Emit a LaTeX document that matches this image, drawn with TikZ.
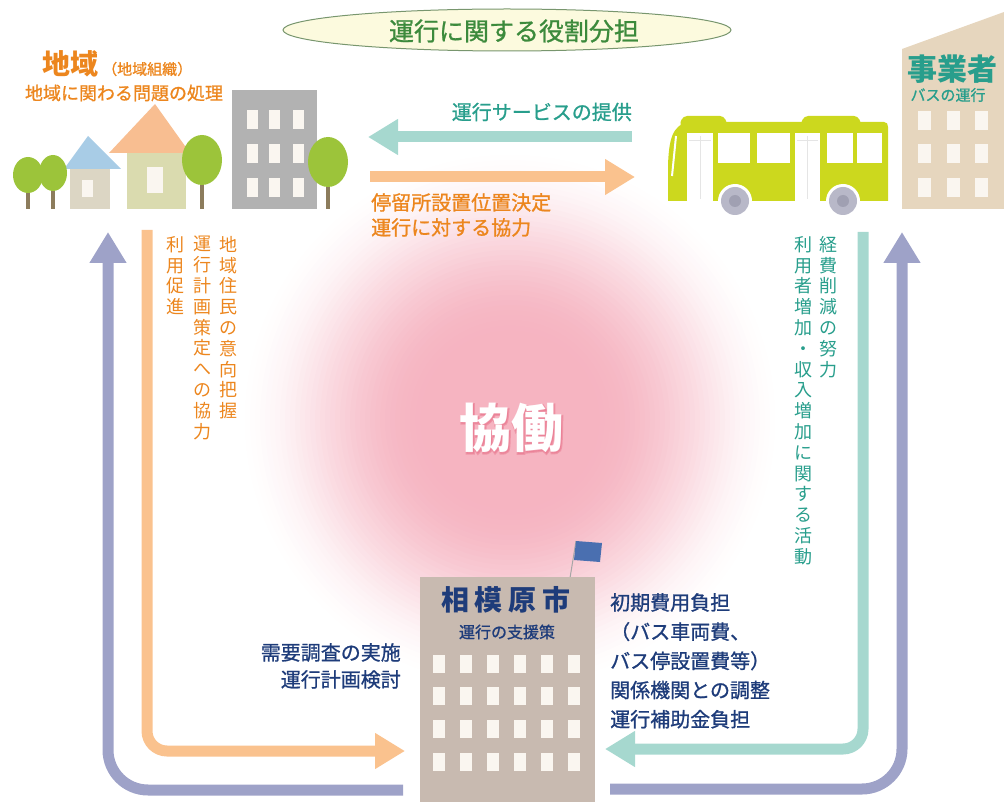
\documentclass[tikz,border=0pt]{standalone}
\usepackage{fontspec}
\setmainfont{Noto Sans CJK JP}
\newfontfamily\medface[FakeBold=1]{Noto Sans CJK JP}
\newfontfamily\haloface[FakeBold=4]{Noto Sans CJK JP}
\usetikzlibrary{arrows.meta,shapes.geometric}

\definecolor{purp}{RGB}{158,162,200}
\definecolor{orarrow}{RGB}{250,194,142}
\definecolor{tlarrow}{RGB}{166,216,207}
\definecolor{ortext}{RGB}{236,134,30}
\definecolor{tltext}{RGB}{40,158,140}
\definecolor{navy}{RGB}{30,60,122}
\definecolor{titlegreen}{RGB}{60,138,60}
\definecolor{ellfill}{RGB}{252,250,222}
\definecolor{ellline}{RGB}{120,150,110}
\definecolor{glowpink}{RGB}{245,176,190}
\definecolor{glowdeep}{RGB}{232,110,134}
\definecolor{lime}{RGB}{204,216,30}
\definecolor{wheel}{RGB}{184,184,200}
\definecolor{wheelhub}{RGB}{160,160,178}
\definecolor{tanwall}{RGB}{230,214,190}
\definecolor{citywall}{RGB}{200,186,176}
\definecolor{graywall}{RGB}{178,178,178}
\definecolor{leaf}{RGB}{156,196,58}
\definecolor{trunk}{RGB}{140,124,92}
\definecolor{roofblue}{RGB}{168,204,230}
\definecolor{rooforange}{RGB}{248,190,145}
\definecolor{wallgray}{RGB}{220,214,196}
\definecolor{wallolive}{RGB}{218,219,175}
\definecolor{flagblue}{RGB}{74,111,176}
\definecolor{winwhite}{RGB}{250,246,240}

\tikzset{
  flow/.style={line width=11pt, line cap=butt},
  bighead/.style={-{Triangle[length=31pt,width=35pt]}},
  midhead/.style={-{Triangle[length=30pt,width=34pt]}},
  lbl/.style={inner sep=0pt, font=\fontsize{20}{29}\selectfont},
  vcol/.style={inner sep=0pt, align=center, anchor=north, font=\fontsize{18}{20.8}\selectfont},
  win/.style={fill=winwhite},
  tree/.style={fill=leaf},
}

\begin{document}
\begin{tikzpicture}[x=1pt,y=-1pt]
\useasboundingbox (0,0) rectangle (1004,802);

% soft pink glow behind the centre: stacked discs, smoothstep profile
\foreach \k in {0,...,40}{
  \pgfmathsetmacro\rr{280-5*\k}
  \pgfmathsetmacro\tc{min(1,(280-\rr)/190)}
  \pgfmathsetmacro\tp{min(1,max(0,(275-\rr)/190))}
  \pgfmathsetmacro\fc{0.95*(3*\tc*\tc-2*\tc*\tc*\tc)}
  \pgfmathsetmacro\fp{0.95*(3*\tp*\tp-2*\tp*\tp*\tp)}
  \pgfmathsetmacro\op{max(0,1-(1-\fc)/(1-\fp))}
  \fill[glowpink, opacity=\op] (510,420) circle (\rr pt);
}

% ---------- title ----------
\node (title) [ellipse, draw=ellline, line width=1pt, fill=ellfill,
  minimum width=448pt, minimum height=42pt, inner sep=0pt] at (507,30) {};
\node (titletext) [text=titlegreen, font=\medface\fontsize{25}{28}\selectfont, inner sep=0pt]
  at (514,31) {運行に関する役割分担};

% ---------- neighbourhood (left) ----------
% gray building
\fill[graywall] (232,90) rectangle (317,209);
\foreach \cx in {247,269,293}
  \foreach \cy in {110,144,178}
    \fill[win] (\cx,\cy) rectangle ++(11,19);
% blue-roof house
\fill[wallgray] (70,168) rectangle (110,209);
\fill[roofblue] (64,169) -- (88,136) -- (121,169) -- cycle;
\fill[win] (82,180) rectangle (93,197);
% orange-roof house
\fill[wallolive] (127,152) rectangle (186,209);
\fill[rooforange] (109,153) -- (155,104) -- (190,153) -- cycle;
\fill[win] (147,167) rectangle (163,193);
% trees
\foreach \tx/\ty/\rx/\ry in {28/175/15/18, 53/173/14/18, 202/160/20/25, 328/162/20/25}{
  \fill[trunk] (\tx-1.8,\ty) rectangle (\tx+1.8,209);
  \fill[tree] (\tx,\ty) ellipse [x radius=\rx pt, y radius=\ry pt];
}
\node (area) [text=ortext, font=\fontsize{28}{30}\bfseries, inner sep=0pt, anchor=west] at (42,64) {地域};
\node (areasub) [text=ortext, font=\medface\fontsize{15}{17}\selectfont, inner sep=0pt, anchor=west] at (102,69) {（地域組織）};
\node (areadesc) [text=ortext, font=\medface\fontsize{18}{20}\selectfont, inner sep=0pt] at (124,93) {地域に関わる問題の処理};

% ---------- operator (right) ----------
\fill[tanwall] (902,209) -- (902,49) -- (1004,12) -- (1004,209) -- cycle;
\foreach \cx in {918,947,975}
  \foreach \cy in {111,144,178}
    \fill[win] (\cx,\cy) rectangle ++(13,19);
\node (oper) [text=tltext, font=\fontsize{30}{32}\bfseries, inner sep=0pt] at (952,69) {事業者};
\node (opersub) [text=tltext, font=\medface\fontsize{15}{17}\selectfont, inner sep=0pt] at (948,95) {バスの運行};

% bus
\fill[lime] (668,201) -- (668,165) .. controls (669,140) and (672,124) .. (690,122)
  -- (884,122) .. controls (887,122) and (888,124) .. (888,127) -- (888,201) -- cycle;
\fill[lime, rounded corners=4pt] (679,126) -- (683,116) -- (724,116) -- (728,126) -- cycle;
\fill[lime, rounded corners=4pt] (800,126) -- (804,116) -- (858,116) -- (862,126) -- cycle;
\draw[white, line width=2pt] (676,136) -- (672,176);
\foreach \xa/\xb in {718/750, 757/790, 827/853, 857/882}
  \fill[white] (\xa,133) rectangle (\xb,163);
\foreach \xa/\xb in {687/713, 795/820}{
  \fill[white] (\xa,133) rectangle (\xb,201);
  \draw[gray!20, line width=0.8pt] ({(\xa+\xb)/2},136) -- ({(\xa+\xb)/2},199);
  \draw[gray!20, line width=0.8pt] (\xa+2,140) -- (\xb-2,140);
}
\foreach \wx in {735,843}{
  \fill[white] (\wx,201) circle (17pt);
  \fill[wheel] (\wx,201) circle (14pt);
  \fill[wheelhub] (\wx,201) circle (6pt);
}
\coordinate (busleft) at (632,137);
\coordinate (townright) at (368,137);
\coordinate (townout) at (370,177);
\coordinate (busin) at (635,177);

% ---------- city hall ----------
\draw[gray!70, line width=1pt] (570,578) -- (576,541);
\fill[flagblue] (576,541) -- (602,543) -- (600,562) -- (574,560) -- cycle;
\node (city) [fill=citywall, inner sep=0pt, minimum width=175pt, minimum height=225pt,
  anchor=north west] at (420,577) {};
\foreach \i in {0,...,5}
  \foreach \cy in {655,687,720,753}
    \fill[win] (433+27*\i,\cy) rectangle ++(12,18);
\node (cityname) [text=navy, font=\fontsize{28}{30}\bfseries, inner sep=0pt] at (506,600)
  {相\hspace{6pt}模\hspace{6pt}原\hspace{6pt}市};
\node (citysub) [text=navy, font=\medface\fontsize{16}{18}\selectfont, inner sep=0pt] at (507,632) {運行の支援策};

% ---------- centre ----------
\node (kyodohalo) [text=glowdeep, opacity=0.45, font=\haloface\fontsize{52}{56}\bfseries, inner sep=0pt] at (512,429) {協働};
\node (kyodo) [text=white, font=\fontsize{52}{56}\bfseries, inner sep=0pt] at (511,428) {協働};

% ---------- connectors ----------
\coordinate (lpstart) at (403,790);
\coordinate (lptip) at (108,232);
\coordinate (lostart) at (147,230);
\coordinate (lotip) at (405,751);
\coordinate (rtstart) at (863,232);
\coordinate (rttip) at (605,749);
\coordinate (rpstart) at (610,789);
\coordinate (rptip) at (902,232);

\draw[flow, purp, bighead, rounded corners=40pt] (lpstart) -| (lptip);
\draw[flow, purp, bighead, rounded corners=40pt] (rpstart) -| (rptip);
\draw[flow, orarrow, midhead, rounded corners=20pt] (lostart) |- (lotip);
\draw[flow, tlarrow, midhead, rounded corners=20pt] (rtstart) |- (rttip);
\draw[flow, tlarrow, midhead] (busleft) -- (townright);
\draw[flow, orarrow, midhead] (townout) -- (busin);

% ---------- labels ----------
\node (svc) [lbl, text=tltext, anchor=east, font=\medface\fontsize{20}{29}\selectfont] at (632,112) {運行サービスの提供};
\node (coop) [lbl, text=ortext, anchor=north west, align=left,
  font=\medface\fontsize{20}{25}\selectfont] at (371,193) {停留所設置位置決定\\運行に対する協力};

\node (v1) [vcol, text=ortext] at (228,236) {地\\域\\住\\民\\の\\意\\向\\把\\握};
\node (v2) [vcol, text=ortext] at (202,236) {運\\行\\計\\画\\策\\定\\へ\\の\\協\\力};
\node (v3) [vcol, text=ortext] at (175,236) {利\\用\\促\\進};
\node (v4) [vcol, text=tltext] at (828,236) {経\\費\\削\\減\\の\\努\\力};
\node (v5) [vcol, text=tltext] at (803,236) {利\\用\\者\\増\\加\\・\\収\\入\\増\\加\\に\\関\\す\\る\\活\\動};

\node (survey) [lbl, text=navy, anchor=north east, align=right,
  font=\medface\fontsize{20}{27}\selectfont] at (401,643) {需要調査の実施\\運行計画検討};
\node (support) [lbl, text=navy, anchor=north west, align=left,
  font=\medface\fontsize{20}{29.2}\selectfont] at (610,593)
  {初期費用負担\\（バス車両費、\\バス停設置費等）\\関係機関との調整\\運行補助金負担};

\end{tikzpicture}
\end{document}
